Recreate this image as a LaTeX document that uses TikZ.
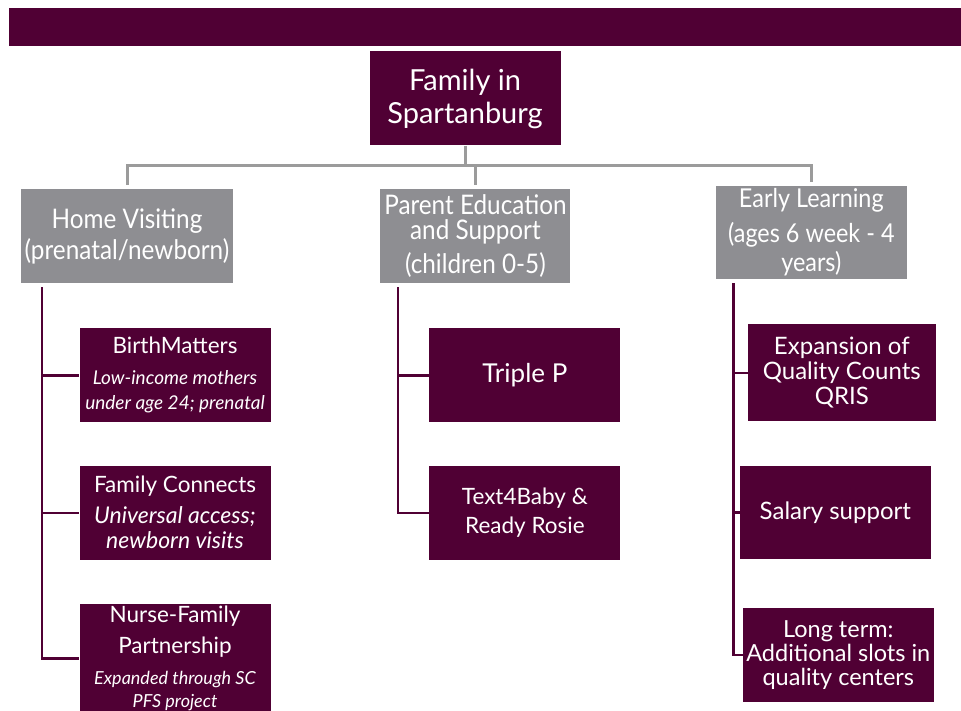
\documentclass[tikz,border=0pt]{standalone}
\usepackage{fontspec}
\setmainfont{Lato}
\newfontfamily\narrowfont[FakeStretch=0.9]{Lato}
\usetikzlibrary{positioning}
\definecolor{plum}{RGB}{80,0,52}
\definecolor{boxgray}{RGB}{142,142,146}
\definecolor{linegray}{RGB}{155,155,155}
\newcommand\noteit{\itshape\fontsize{19}{22}\selectfont}

\begin{document}
\begin{tikzpicture}[x=1pt, y=1pt,
  every node/.style={rectangle, align=center, text=white, inner sep=2pt},
  rootbox/.style={fill=plum, minimum width=191pt, minimum height=94pt,
    font=\fontsize{29}{33}\selectfont},
  catbox/.style={fill=boxgray, minimum height=94pt,
    font=\narrowfont\fontsize{27}{25}\selectfont},
  progbox/.style={fill=plum, minimum width=191pt, minimum height=94pt,
    font=\fontsize{22.5}{25}\selectfont},
  treeline/.style={draw=linegray, line width=3pt},
  branch/.style={draw=plum, line width=2.5pt}]
\useasboundingbox (0,0) rectangle (961,-711);
\fill[plum] (9,-8) rectangle (961,-46);
% top of the tree
\node[rootbox] (root) at (465,-98.5) {Family in\\Spartanburg};
\node[catbox, minimum width=212pt] (hv) at (127,-236) {Home Visiting\\[4pt](prenatal/newborn)};
\node[catbox, minimum width=190pt, right=147pt of hv] (pe) {Parent Education\\and Support\\[7pt](children 0-5)};
\node[catbox, minimum width=191pt, minimum height=93pt, right=145pt of pe, yshift=3.5pt, font=\narrowfont\fontsize{26}{24}\selectfont] (el) {Early Learning\\[9pt](ages 6 week - 4\\[3pt]years)};
% home visiting
\node[progbox, below=45pt of hv, xshift=48pt] (bm) {BirthMatters\\[6pt]{\noteit Low-income mothers}\\{\noteit under age 24; prenatal}};
\node[progbox, below=43pt of bm] (fc) {Family Connects\\[6pt]{\noteit\fontsize{23}{26}\selectfont Universal access;}\\{\noteit\fontsize{23}{26}\selectfont newborn visits}};
\node[progbox, below=44pt of fc, minimum height=109pt] (nfp) {Nurse-Family\\[6pt]Partnership\\[6pt]{\noteit\fontsize{18}{20}\selectfont Expanded through SC}\\[-2pt]{\noteit\fontsize{18}{20}\selectfont PFS project}};
% parent education
\node[progbox, below=45pt of pe, xshift=49.5pt, font=\fontsize{26}{28}\selectfont] (tp) {Triple P};
\node[progbox, below=43pt of tp] (tb) {Text4Baby \&\\[4pt]Ready Rosie};
% early learning
\node[progbox, below=45pt of el, xshift=30.5pt, minimum width=188pt, minimum height=97pt, font=\fontsize{24}{25}\selectfont] (qc) {Expansion of\\Quality Counts\\QRIS};
\node[progbox, below=44pt of qc, xshift=-6.5pt, minimum height=93pt, font=\fontsize{24}{25}\selectfont] (sal) {Salary support};
\node[progbox, below=49pt of sal, xshift=3pt, font=\fontsize{23.5}{24}\selectfont] (slots) {Long term:\\Additional slots in\\quality centers};
% grey connectors
\coordinate[below=20pt of root] (hub);
\draw[treeline, shorten >=4pt] (root.south) -- (hub) -| (hv.north);
\draw[treeline, shorten >=4pt] (hub) -| (pe.north);
\draw[treeline, shorten >=4pt] (hub) -| (el.north);
% purple connectors
\coordinate (hvtop) at ([xshift=21pt, yshift=-4pt]hv.south west);
\coordinate (petop) at ([xshift=18pt, yshift=-4pt]pe.south west);
\coordinate (eltop) at ([xshift=18pt, yshift=-4pt]el.south west);
\draw[branch] (hvtop) |- (nfp.west);
\draw[branch] (bm.west -| hvtop) -- (bm.west);
\draw[branch] (fc.west -| hvtop) -- (fc.west);
\draw[branch] (petop) |- (tb.west);
\draw[branch] (tp.west -| petop) -- (tp.west);
\draw[branch] (eltop) |- (slots.west);
\draw[branch] (qc.west -| eltop) -- (qc.west);
\draw[branch] (sal.west -| eltop) -- (sal.west);
\end{tikzpicture}
\end{document}
